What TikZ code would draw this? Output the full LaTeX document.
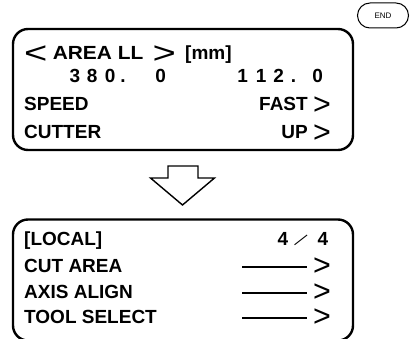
\documentclass[tikz,border=0pt]{standalone}
\usepackage{fontspec}
\setmainfont{Liberation Sans}
\usepackage{graphicx}
\usetikzlibrary{positioning}
\newcommand{\gtmark}{\smash{\raisebox{-3.3pt}{\mdseries\scalebox{1.6}{>}}}}
\newcommand{\ltwide}{\raisebox{-3.3pt}{\mdseries\scalebox{2.1}[1.6]{<}}}
\newcommand{\gtwide}{\raisebox{-3.3pt}{\mdseries\scalebox{2.1}[1.6]{>}}}
\newcommand{\fslash}{\raisebox{-4pt}{\rotatebox{38}{\mdseries\fontsize{16}{16}\selectfont —}}}

\begin{document}
\begin{tikzpicture}[x=1pt, y=1pt, every node/.style={font=\fontsize{19}{22}\selectfont\bfseries, inner sep=0pt},
  screen/.style={draw, rounded corners=15pt, line width=2.4pt, minimum width=340pt, minimum height=121pt},
  row/.style={anchor=base west},
  rrow/.style={anchor=base east},
  rule/.style={line width=2pt}]
\useasboundingbox (0,0) rectangle (410,338);
\clip (0,0) rectangle (410,338);
% Screens
\node[screen] (s1) at (183,248.5) {};
\node[screen] (s2) at (183,58) {};
\node[draw, line width=1pt, rounded corners=12.5pt, minimum width=51pt, minimum height=25pt,
  font=\fontsize{8}{9}\selectfont] (endkey) at (383,322.5) {END};
% Upper screen
\node[row] (t1) at (24,278) {\ltwide\ \scalebox{1.1}[1]{AREA LL}\hspace{4pt} \gtwide\hspace{4pt} [mm]};
\node[row] (t2a) at (69.4,255) {3\hspace{6.7pt}8\hspace{7.4pt}0\hspace{5.1pt}.\hspace{29.5pt}0};
\node[row] (t2b) at (237.2,255) {1\hspace{7.9pt}1\hspace{6.9pt}2\hspace{7.1pt}.\hspace{16pt}0};
\node[row] (t3) at (24,227) {SPEED};
\node[rrow] (t3r) at (331,227) {FAST \gtmark};
\node[row] (t4) at (24,199) {CUTTER};
\node[rrow] (t4r) at (331,199) {UP \gtmark};
% Arrow
\draw[line width=1.4pt] (168,172) -- (198,172) -- (198,160) -- (214.5,160) -- (182.5,133)
  -- (150.5,160) -- (168,160) -- cycle;
% Lower screen
\node[row] (b1) at (24,93) {[LOCAL]};
\node[rrow] (b1r) at (328.5,93) {4\hspace{6pt}\fslash\hspace{8pt}4};
\foreach \i/\txt/\y in {1/CUT AREA/66, 2/AXIS ALIGN/40, 3/TOOL SELECT/15} {
  \node[row] (m\i) at (24,\y) {\txt};
  \node[rrow] (g\i) at (331,\y) {\gtmark};
  \draw[rule] ([xshift=-6pt, yshift=5.3pt]g\i.base west) -- ++(-65,0);
}
\end{tikzpicture}
\end{document}
